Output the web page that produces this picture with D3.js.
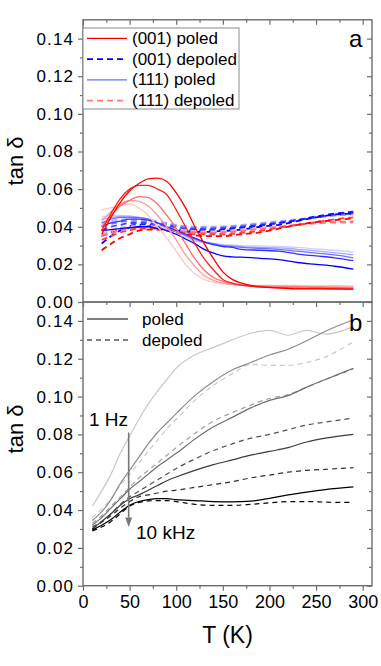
<!DOCTYPE html>
<html>
<head>
<meta charset="utf-8">
<script src="https://cdn.jsdelivr.net/npm/d3@7"></script>
<style>
body { margin: 0; background: #fff; }
svg { display: block; font-family: Arial, "Liberation Sans", sans-serif; }
</style>
</head>
<body>
<script>
// frequencies, low -> high (light -> dark)
var freqs = ['1 Hz', '10 Hz', '100 Hz', '1 kHz', '10 kHz'];

// panel a: temperature grid (K)
var tempsA = [20, 30, 40, 50, 60, 70, 80, 90, 100, 110, 120, 130, 140, 150, 160, 170, 190, 210, 230, 250, 270, 290];

// (001) poled, red solid
var poled001 = [
  [0.049, 0.050, 0.0515, 0.052, 0.050, 0.046, 0.040, 0.034, 0.027, 0.020, 0.015, 0.012, 0.0105, 0.0098, 0.0092, 0.009, 0.0088, 0.0088, 0.0088, 0.0087, 0.0087, 0.0086],
  [0.043, 0.048, 0.052, 0.054, 0.0535, 0.051, 0.046, 0.040, 0.033, 0.025, 0.019, 0.014, 0.0115, 0.010, 0.0092, 0.0088, 0.0085, 0.0085, 0.0083, 0.0082, 0.008, 0.008],
  [0.040, 0.046, 0.051, 0.054, 0.056, 0.0555, 0.052, 0.046, 0.039, 0.031, 0.023, 0.017, 0.013, 0.011, 0.0098, 0.009, 0.0085, 0.008, 0.008, 0.0078, 0.0078, 0.0075],
  [0.038, 0.047, 0.055, 0.060, 0.062, 0.062, 0.060, 0.057, 0.049, 0.040, 0.031, 0.023, 0.017, 0.012, 0.010, 0.009, 0.008, 0.0075, 0.0073, 0.0072, 0.007, 0.007],
  [0.036, 0.045, 0.053, 0.059, 0.063, 0.0655, 0.0658, 0.064, 0.058, 0.050, 0.040, 0.031, 0.023, 0.016, 0.012, 0.010, 0.008, 0.0075, 0.007, 0.007, 0.007, 0.0068]
];
// (001) depoled, blue dashed
var depoled001 = [
  [0.042, 0.043, 0.044, 0.044, 0.044, 0.0435, 0.043, 0.042, 0.041, 0.0405, 0.040, 0.040, 0.040, 0.0402, 0.0405, 0.041, 0.042, 0.043, 0.044, 0.045, 0.046, 0.0465],
  [0.040, 0.0415, 0.0425, 0.043, 0.043, 0.043, 0.042, 0.0415, 0.0405, 0.0398, 0.0395, 0.0395, 0.0395, 0.0398, 0.040, 0.0405, 0.0415, 0.0425, 0.0438, 0.045, 0.046, 0.047],
  [0.038, 0.040, 0.041, 0.042, 0.042, 0.042, 0.0415, 0.041, 0.040, 0.039, 0.0388, 0.0388, 0.039, 0.0392, 0.0395, 0.040, 0.041, 0.042, 0.0435, 0.045, 0.0465, 0.0475],
  [0.035, 0.037, 0.039, 0.0405, 0.041, 0.041, 0.0405, 0.040, 0.039, 0.038, 0.038, 0.038, 0.0382, 0.0385, 0.039, 0.0395, 0.0405, 0.042, 0.0435, 0.0455, 0.047, 0.048],
  [0.031, 0.035, 0.038, 0.0395, 0.040, 0.0402, 0.040, 0.039, 0.038, 0.0375, 0.0373, 0.0373, 0.0375, 0.0378, 0.038, 0.0385, 0.040, 0.041, 0.043, 0.045, 0.0465, 0.047]
];
// (111) poled, blue solid
var poled111 = [
  [0.045, 0.046, 0.046, 0.0458, 0.045, 0.0435, 0.041, 0.0385, 0.036, 0.034, 0.0325, 0.0315, 0.031, 0.0305, 0.0303, 0.030, 0.0298, 0.0295, 0.029, 0.0282, 0.0275, 0.0265],
  [0.044, 0.045, 0.0455, 0.0455, 0.045, 0.044, 0.042, 0.040, 0.0375, 0.035, 0.033, 0.0315, 0.0305, 0.030, 0.0298, 0.0295, 0.029, 0.0288, 0.028, 0.0272, 0.0262, 0.025],
  [0.042, 0.044, 0.045, 0.045, 0.0448, 0.044, 0.042, 0.040, 0.038, 0.0355, 0.0335, 0.032, 0.031, 0.030, 0.0295, 0.029, 0.0285, 0.028, 0.027, 0.026, 0.025, 0.0235],
  [0.040, 0.042, 0.043, 0.044, 0.044, 0.0435, 0.042, 0.040, 0.038, 0.036, 0.034, 0.032, 0.0305, 0.0295, 0.029, 0.028, 0.0275, 0.027, 0.0255, 0.0245, 0.0235, 0.022],
  [0.038, 0.0385, 0.039, 0.0395, 0.040, 0.040, 0.039, 0.038, 0.036, 0.0335, 0.031, 0.028, 0.026, 0.0245, 0.024, 0.0238, 0.0232, 0.0225, 0.021, 0.020, 0.019, 0.0175]
];
// (111) depoled, red dashed
var depoled111 = [
  [0.037, 0.0385, 0.0398, 0.0402, 0.0405, 0.0405, 0.040, 0.0395, 0.0388, 0.038, 0.0377, 0.0375, 0.0375, 0.0377, 0.038, 0.0383, 0.0392, 0.040, 0.041, 0.0418, 0.042, 0.042],
  [0.036, 0.0375, 0.039, 0.0395, 0.040, 0.040, 0.0395, 0.039, 0.0382, 0.0375, 0.0372, 0.037, 0.037, 0.0372, 0.0375, 0.038, 0.039, 0.040, 0.041, 0.042, 0.0425, 0.0425],
  [0.035, 0.0365, 0.038, 0.039, 0.0395, 0.0395, 0.0392, 0.0388, 0.038, 0.0372, 0.037, 0.0367, 0.0367, 0.037, 0.0372, 0.0377, 0.0388, 0.0398, 0.041, 0.042, 0.0425, 0.0428],
  [0.033, 0.035, 0.037, 0.038, 0.039, 0.039, 0.039, 0.0385, 0.0375, 0.0365, 0.036, 0.036, 0.036, 0.036, 0.0362, 0.0367, 0.0378, 0.0395, 0.041, 0.0425, 0.044, 0.045],
  [0.0275, 0.031, 0.034, 0.036, 0.038, 0.0385, 0.0385, 0.038, 0.037, 0.036, 0.0355, 0.035, 0.035, 0.035, 0.0355, 0.036, 0.037, 0.039, 0.041, 0.0425, 0.0435, 0.0445]
];

// panel b: temperature grid (K)
var tempsB = [10, 20, 30, 40, 50, 60, 70, 80, 90, 100, 120, 140, 160, 180, 200, 220, 240, 260, 290];

var poledB = [
  [0.042, 0.050, 0.059, 0.070, 0.079, 0.088, 0.096, 0.103, 0.109, 0.115, 0.122, 0.126, 0.130, 0.1335, 0.135, 0.1325, 0.135, 0.133, 0.137],
  [0.0345, 0.039, 0.0455, 0.054, 0.061, 0.068, 0.075, 0.081, 0.086, 0.091, 0.1005, 0.108, 0.114, 0.118, 0.122, 0.125, 0.1295, 0.1345, 0.1406],
  [0.032, 0.036, 0.041, 0.046, 0.051, 0.055, 0.059, 0.063, 0.0665, 0.070, 0.0775, 0.084, 0.089, 0.094, 0.098, 0.1005, 0.105, 0.109, 0.115],
  [0.030, 0.034, 0.038, 0.0425, 0.046, 0.048, 0.0505, 0.053, 0.0555, 0.0575, 0.061, 0.064, 0.0665, 0.069, 0.071, 0.073, 0.076, 0.078, 0.080],
  [0.0295, 0.032, 0.035, 0.039, 0.0425, 0.0445, 0.0455, 0.046, 0.046, 0.0455, 0.045, 0.0445, 0.0443, 0.0447, 0.0462, 0.048, 0.0495, 0.0508, 0.0522]
];
var depoledB = [
  [0.036, 0.0405, 0.046, 0.053, 0.059, 0.065, 0.071, 0.077, 0.083, 0.088, 0.098, 0.106, 0.112, 0.117, 0.1165, 0.1165, 0.118, 0.121, 0.129],
  [0.033, 0.037, 0.042, 0.047, 0.052, 0.057, 0.061, 0.065, 0.069, 0.073, 0.0805, 0.087, 0.0915, 0.0955, 0.099, 0.101, 0.105, 0.109, 0.1145],
  [0.031, 0.034, 0.038, 0.043, 0.047, 0.050, 0.053, 0.056, 0.059, 0.062, 0.067, 0.0715, 0.075, 0.078, 0.080, 0.0825, 0.085, 0.0865, 0.0886],
  [0.030, 0.0335, 0.037, 0.041, 0.0445, 0.047, 0.048, 0.049, 0.050, 0.0505, 0.052, 0.0535, 0.055, 0.057, 0.0585, 0.060, 0.061, 0.0615, 0.0624],
  [0.029, 0.031, 0.034, 0.038, 0.042, 0.044, 0.0448, 0.045, 0.045, 0.0445, 0.043, 0.0425, 0.0425, 0.043, 0.0438, 0.0445, 0.0445, 0.0442, 0.044]
];

var xTicks = [0, 50, 100, 150, 200, 250, 300];
var xMinor = [25, 75, 125, 175, 225, 275];
var yTicks = [0, 0.02, 0.04, 0.06, 0.08, 0.10, 0.12, 0.14];
var yMinor = [0.01, 0.03, 0.05, 0.07, 0.09, 0.11, 0.13];

// shades per frequency
var redShades = ['#ffc4c4', '#ff9a9a', '#ff6a6a', '#ff2020', '#ff0000'];
var blueShades = ['#cfcfff', '#a8a8ff', '#7070ff', '#3030ff', '#0000ff'];
var blueDashShades = ['#b0b0ff', '#8080ff', '#4040ff', '#1a1aff', '#0000ff'];
var redDashShades = ['#ffc0c0', '#ff9a9a', '#ff7070', '#ff3c3c', '#ff0000'];
var grayShades = ['#c8c8c8', '#8c8c8c', '#6e6e6e', '#3c3c3c', '#000000'];
var grayDashShades = ['#c8c8c8', '#a0a0a0', '#505050', '#303030', '#000000'];

var W = 381, H = 666;
var left = 83, right = 372, topA = 19.8, mid = 302, bottom = 585.7;
var axisColor = '#6d6d6d';

var x = d3.scaleLinear().domain([0, 310]).range([left, right]);
var yA = d3.scaleLinear().domain([0, 0.15]).range([mid, topA]);
var yB = d3.scaleLinear().domain([0, 0.15]).range([bottom, mid]);

var svg = d3.select('body').append('svg')
  .attr('width', W)
  .attr('height', H);

svg.append('clipPath').attr('id', 'clipA').append('rect')
  .attr('x', left).attr('y', topA).attr('width', right - left).attr('height', mid - topA);
svg.append('clipPath').attr('id', 'clipB').append('rect')
  .attr('x', left).attr('y', mid).attr('width', right - left).attr('height', bottom - mid);

var makeLine = function (y, temps) {
  return d3.line()
    .x(function (d, i) { return x(temps[i]); })
    .y(function (d) { return y(d); })
    .curve(d3.curveMonotoneX);
};

var drawGroup = function (g, y, temps, series, shades, dash, width) {
  g.selectAll(null)
    .data(series)
    .enter().append('path')
    .attr('d', makeLine(y, temps))
    .attr('fill', 'none')
    .attr('stroke', function (d, i) { return shades[i]; })
    .attr('stroke-width', width)
    .attr('stroke-dasharray', dash);
};

// panel a curves
var gA = svg.append('g').attr('clip-path', 'url(#clipA)');
drawGroup(gA, yA, tempsA, depoled001, blueDashShades, '6,4', 1.8);
drawGroup(gA, yA, tempsA, depoled111, redDashShades, '6,4', 1.8);
drawGroup(gA, yA, tempsA, poled111, blueShades, null, 1.3);
drawGroup(gA, yA, tempsA, poled001, redShades, null, 1.3);

// panel b curves
var gB = svg.append('g').attr('clip-path', 'url(#clipB)');
drawGroup(gB, yB, tempsB, depoledB, grayDashShades, '5,4', 1.2);
drawGroup(gB, yB, tempsB, poledB, grayShades, null, 1.2);

// axes
var styleAxis = function (g) {
  g.select('.domain').remove();
  g.selectAll('line').attr('stroke', axisColor).attr('stroke-width', 1.2);
  g.selectAll('text').attr('fill', '#000').style('font-size', '18px');
};

var yAxes = function (y) {
  svg.append('g').attr('transform', 'translate(' + left + ',0)')
    .call(d3.axisLeft(y).tickValues(yTicks).tickSize(5).tickPadding(4).tickFormat(d3.format('.2f')))
    .call(styleAxis)
    .call(function (g) {
      g.selectAll('text').style('font-size', '17px').style('letter-spacing', '1.1px');
    });
  svg.append('g').attr('transform', 'translate(' + left + ',0)')
    .call(d3.axisLeft(y).tickValues(yMinor).tickSize(3).tickFormat(''))
    .call(styleAxis);
  svg.append('g').attr('transform', 'translate(' + right + ',0)')
    .call(d3.axisRight(y).tickValues(yTicks).tickSize(-5).tickFormat(''))
    .call(styleAxis);
  svg.append('g').attr('transform', 'translate(' + right + ',0)')
    .call(d3.axisRight(y).tickValues(yMinor).tickSize(-3).tickFormat(''))
    .call(styleAxis);
};
yAxes(yA);
yAxes(yB);

// inward ticks on the top edges of both panels
[topA, mid].forEach(function (yy) {
  svg.append('g').attr('transform', 'translate(0,' + yy + ')')
    .call(d3.axisBottom(x).tickValues(xTicks).tickSize(5).tickFormat(''))
    .call(styleAxis);
  svg.append('g').attr('transform', 'translate(0,' + yy + ')')
    .call(d3.axisBottom(x).tickValues(xMinor).tickSize(3).tickFormat(''))
    .call(styleAxis);
});

svg.append('g').attr('transform', 'translate(0,' + bottom + ')')
  .call(d3.axisBottom(x).tickValues(xTicks).tickSize(5).tickPadding(5).tickFormat(d3.format('d')))
  .call(styleAxis);
svg.append('g').attr('transform', 'translate(0,' + bottom + ')')
  .call(d3.axisBottom(x).tickValues(xMinor).tickSize(3).tickFormat(''))
  .call(styleAxis);

// frames
[[topA, mid], [mid, bottom]].forEach(function (p) {
  svg.append('rect')
    .attr('x', left).attr('y', p[0])
    .attr('width', right - left).attr('height', p[1] - p[0])
    .attr('fill', 'none')
    .attr('stroke', axisColor)
    .attr('stroke-width', 1.4);
});

// axis titles
[[yA, 161], [yB, 429]].forEach(function (p) {
  svg.append('text')
    .attr('transform', 'translate(15,' + p[1] + ') rotate(-90)')
    .attr('text-anchor', 'middle')
    .attr('dominant-baseline', 'central')
    .style('font-size', '22px')
    .text('tan δ');
});
svg.append('text')
  .attr('x', (left + right) / 2)
  .attr('y', 643)
  .attr('text-anchor', 'middle')
  .style('font-size', '23px')
  .text('T (K)');

// panel letters
svg.append('text').attr('x', 349).attr('y', 47).style('font-size', '24px').text('a');
svg.append('text').attr('x', 349).attr('y', 331).style('font-size', '24px').text('b');

// legend a
var legendA = [
  {label: '(001) poled', color: '#ff0000', dash: null},
  {label: '(001) depoled', color: '#0000ff', dash: '6,4'},
  {label: '(111) poled', color: '#6a6aff', dash: null},
  {label: '(111) depoled', color: '#ff7a7a', dash: '6,4'}
];
svg.append('rect')
  .attr('x', left).attr('y', 28).attr('width', 156).attr('height', 81)
  .attr('fill', '#fff').attr('stroke', '#8a8a8a').attr('stroke-width', 1);
legendA.forEach(function (d, i) {
  var yy = 38.3 + i * 20.8;
  svg.append('line')
    .attr('x1', 87).attr('x2', 127).attr('y1', yy).attr('y2', yy)
    .attr('stroke', d.color).attr('stroke-width', d.dash ? 1.8 : 1.3)
    .attr('stroke-dasharray', d.dash);
  svg.append('text')
    .attr('x', 132).attr('y', yy)
    .attr('dominant-baseline', 'central')
    .style('font-size', '17px')
    .text(d.label);
});

// legend b
var legendB = [
  {label: 'poled', dash: null},
  {label: 'depoled', dash: '5,4'}
];
legendB.forEach(function (d, i) {
  var yy = 319 + i * 21;
  svg.append('line')
    .attr('x1', 87).attr('x2', 128).attr('y1', yy).attr('y2', yy)
    .attr('stroke', '#000').attr('stroke-width', 1.2)
    .attr('stroke-dasharray', d.dash);
  svg.append('text')
    .attr('x', 142).attr('y', yy)
    .attr('dominant-baseline', 'central')
    .style('font-size', '17px')
    .text(d.label);
});

// frequency arrow
var arrowT = 49;
svg.append('line')
  .attr('x1', x(arrowT)).attr('x2', x(arrowT))
  .attr('y1', yB(0.081)).attr('y2', yB(0.036))
  .attr('stroke', '#777').attr('stroke-width', 1.6);
svg.append('path')
  .attr('d', 'M' + (x(arrowT) - 3.5) + ',' + yB(0.036) + 'L' + (x(arrowT) + 3.5) + ',' + yB(0.036) + 'L' + x(arrowT) + ',' + yB(0.031) + 'Z')
  .attr('fill', '#777');
svg.append('text').attr('x', 89).attr('y', 426).style('font-size', '19px').text(freqs[0]);
svg.append('text').attr('x', 136).attr('y', 539).style('font-size', '19px').text(freqs[4]);
</script>
</body>
</html>
